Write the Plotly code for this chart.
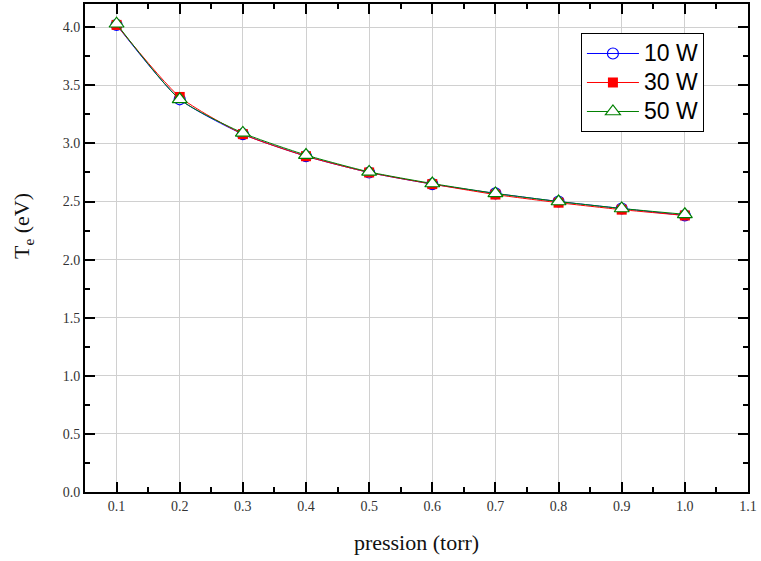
import plotly.graph_objects as go

pression = [0.1, 0.2, 0.3, 0.4, 0.5, 0.6, 0.7, 0.8, 0.9, 1.0]
te_10w = [4.02, 3.38, 3.08, 2.89, 2.75, 2.65, 2.57, 2.50, 2.44, 2.38]
te_30w = [4.02, 3.40, 3.08, 2.89, 2.75, 2.65, 2.56, 2.49, 2.43, 2.38]
te_50w = [4.03, 3.38, 3.09, 2.90, 2.755, 2.655, 2.57, 2.50, 2.44, 2.39]
series_names = ["10 W", "30 W", "50 W"]

x_range = [0.05, 1.1]
y_range = [0, 4.2]

serif = "Liberation Serif, DejaVu Serif, serif"


def legend_label(txt):
    return "<span style='font-size:23px'>" + txt + "</span>"


fig = go.Figure()
fig.add_trace(go.Scatter(
    x=pression, y=te_10w, name=legend_label(series_names[0]), mode="lines+markers",
    line=dict(color="#0000ff", width=1, shape="spline", smoothing=0.6),
    marker=dict(symbol="circle-open", size=11, color="#0000ff", line=dict(width=1.2)),
))
fig.add_trace(go.Scatter(
    x=pression, y=te_30w, name=legend_label(series_names[1]), mode="lines+markers",
    line=dict(color="#ff0000", width=1, shape="spline", smoothing=0.6),
    marker=dict(symbol="square", size=10, color="#ff0000"),
))
fig.add_trace(go.Scatter(
    x=pression, y=te_50w, name=legend_label(series_names[2]), mode="lines+markers",
    line=dict(color="#008000", width=1, shape="spline", smoothing=0.6),
    marker=dict(symbol="triangle-up", size=13, color="white", line=dict(color="#008000", width=1.2)),
))

tick_common = dict(
    showline=True, linecolor="black", linewidth=2, mirror="allticks",
    ticks="inside", ticklen=10, tickwidth=2, tickcolor="black",
    zeroline=False, automargin=False,
    showgrid=True, gridcolor="#d0d0d0", gridwidth=1,
)
label_font = dict(family=serif, size=14, color="#333333")
title_font = dict(family=serif, size=22, color="#111111")

fig.update_layout(
    xaxis=dict(
        range=x_range, tick0=0.1, dtick=0.1, tickformat=".1f",
        minor=dict(ticks="inside", ticklen=5, tickwidth=2, tickcolor="black", dtick=0.05, tick0=0.05, showgrid=False),
        tickfont=label_font,
        title=dict(text="pression (torr)", font=title_font, standoff=22),
        **tick_common,
    ),
    yaxis=dict(
        range=y_range, tick0=0, dtick=0.5, tickformat=".1f",
        minor=dict(ticks="inside", ticklen=5, tickwidth=2, tickcolor="black", dtick=0.25, tick0=0, showgrid=False),
        tickfont=label_font,
        **tick_common,
    ),
    annotations=[dict(
        text="T<sub>e</sub> (eV)", textangle=-90, showarrow=False,
        xref="paper", yref="paper", x=0, y=0.545, xanchor="center", yanchor="middle",
        xshift=-62, font=dict(family=serif, size=22, color="#111111"),
    )],
    width=761, height=561,
    margin=dict(l=85, r=13, t=4, b=69),
    paper_bgcolor="white", plot_bgcolor="white",
    showlegend=True,
    legend=dict(
        x=0.748, y=0.9406, xanchor="left", yanchor="top",
        bgcolor="white", bordercolor="black", borderwidth=1,
        font=dict(family="Liberation Sans, Arial, sans-serif", size=20, color="black"),
        itemwidth=52, tracegroupgap=0,
    ),
)

fig.write_html(
    "out.html",
    config={"displayModeBar": False},
    post_script="document.body.style.margin='0';document.body.style.padding='0';",
)
